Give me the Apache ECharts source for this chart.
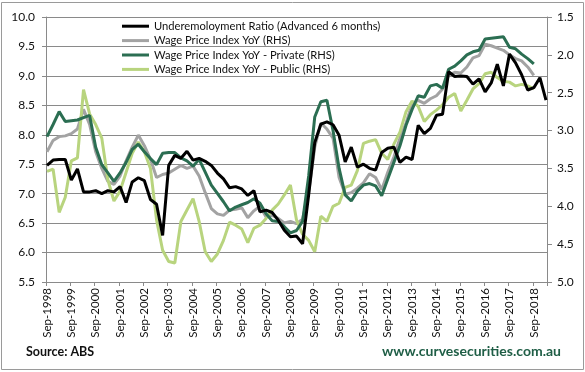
<!DOCTYPE html>
<html>
<head>
<meta charset="utf-8">
<script src="https://cdn.jsdelivr.net/npm/echarts@6/dist/echarts.min.js"></script>
<style>
  html, body { margin: 0; padding: 0; background: #ffffff; }
  #chart { width: 585px; height: 372px; }
</style>
</head>
<body>
<div id="chart"></div>
<script>
// ---- data (quarterly, Sep-1998 onwards) ----
var monthNames = ['Jan','Feb','Mar','Apr','May','Jun','Jul','Aug','Sep','Oct','Nov','Dec'];
var startYear = 1998, startMonth = 8;   // Sep-1998
var monthCount = 247;                  // Sep-1998 .. Mar-2019

var seriesNames = [
  'Underemoloyment Ratio (Advanced 6 months)',
  'Wage Price Index YoY (RHS)',
  'Wage Price Index YoY - Private (RHS)',
  'Wage Price Index YoY - Public (RHS)'
];

// Underemployment ratio, advanced 6 months (left axis), Sep-1998 .. Mar-2019
var underemployment = [
  7.48, 7.57, 7.58, 7.58, 7.23, 7.42, 7.03, 7.03, 7.05, 7.00,
  7.05, 7.03, 7.12, 6.85, 7.20, 7.27, 7.22, 6.90, 6.82, 6.29,
  7.48, 7.65, 7.60, 7.72, 7.57, 7.60, 7.55, 7.48, 7.35, 7.25,
  7.10, 7.12, 7.08, 6.97, 7.05, 6.69, 6.72, 6.68, 6.55, 6.38,
  6.27, 6.28, 6.15, 6.98, 7.87, 8.18, 8.22, 8.17, 7.99, 7.54,
  7.79, 7.45, 7.50, 7.43, 7.40, 7.70, 7.77, 7.79, 7.53, 7.62,
  7.58, 8.16, 8.02, 8.11, 8.33, 8.35, 9.07, 8.99, 9.00, 8.99,
  8.86, 8.95, 8.73, 8.88, 9.20, 8.83, 9.37, 9.22, 9.02, 8.76,
  8.80, 8.97, 8.59
];

// Wage Price Index YoY (right axis, inverted), Sep-1998 .. Sep-2018
var wpiTotal = [
  3.28, 3.13, 3.08, 3.07, 3.04, 2.98, 2.72, 2.92, 3.28, 3.50,
  3.67, 3.71, 3.60, 3.40, 3.22, 3.06, 3.20, 3.38, 3.62, 3.58,
  3.56, 3.51, 3.46, 3.50, 3.47, 3.60, 3.82, 4.03, 4.10, 4.12,
  4.05, 4.04, 4.02, 4.15, 4.06, 4.00, 4.14, 4.12, 4.16, 4.22,
  4.20, 4.23, 4.17, 3.82, 3.22, 2.90, 2.98, 3.10, 3.62, 3.84,
  3.82, 3.76, 3.69, 3.57, 3.62, 3.78, 3.55, 3.35, 3.10, 2.90,
  2.65, 2.60, 2.64, 2.58, 2.54, 2.45, 2.27, 2.23, 2.24, 2.16,
  2.04, 2.01, 1.86, 1.88, 1.91, 1.94, 2.00, 2.05, 2.08, 2.16,
  2.27
];

var wpiPrivate = [
  3.08, 2.92, 2.75, 2.88, 2.87, 2.86, 2.83, 2.80, 3.22, 3.45,
  3.56, 3.67, 3.56, 3.42, 3.25, 3.18, 3.28, 3.37, 3.45, 3.30,
  3.29, 3.29, 3.36, 3.40, 3.47, 3.38, 3.55, 3.72, 3.83, 3.94,
  4.06, 4.01, 3.98, 3.95, 3.90, 3.96, 4.10, 4.19, 4.20, 4.27,
  4.35, 4.32, 4.20, 3.60, 2.82, 2.62, 2.60, 3.00, 3.50, 3.85,
  3.93, 3.80, 3.72, 3.70, 3.73, 3.86, 3.64, 3.42, 3.20, 2.93,
  2.72, 2.54, 2.56, 2.41, 2.39, 2.44, 2.19, 2.15, 2.08, 2.00,
  1.96, 1.94, 1.79, 1.78, 1.77, 1.76, 1.90, 1.92, 1.99, 2.05,
  2.12
];

var wpiPublic = [
  3.54, 3.51, 4.08, 3.88, 3.40, 3.36, 2.46, 2.78, 2.92, 3.10,
  3.65, 3.93, 3.80, 3.55, 3.30, 3.15, 3.28, 3.50, 4.18, 4.58,
  4.73, 4.75, 4.20, 4.05, 3.90, 4.20, 4.60, 4.73, 4.63, 4.45,
  4.21, 4.25, 4.30, 4.48, 4.29, 4.25, 4.16, 4.05, 3.97, 3.85,
  3.72, 4.18, 4.37, 4.45, 4.60, 4.13, 4.20, 4.00, 3.96, 3.75,
  3.72, 3.53, 3.17, 3.14, 3.12, 3.30, 3.38, 3.18, 3.02, 2.75,
  2.61, 2.68, 2.88, 2.79, 2.73, 2.66, 2.56, 2.51, 2.74, 2.60,
  2.45, 2.38, 2.25, 2.23, 2.30, 2.35, 2.36, 2.41, 2.39, 2.41,
  2.45
];

var leftTicks = { min: 5.5, max: 10, interval: 0.5 };
var rightTicks = { min: 1.5, max: 5.0, interval: 0.5 };

// ---- build monthly category axis; quarterly values every 3rd month ----
var months = [];
for (var i = 0; i < monthCount; i++) {
  var mm = (startMonth + i) % 12;
  var yy = startYear + Math.floor((startMonth + i) / 12);
  months.push(monthNames[mm] + '-' + yy);
}
function toMonthly(q) {
  var out = [];
  for (var i = 0; i < monthCount; i++) {
    if (i % 3 === 0 && (i / 3) < q.length) out.push(q[i / 3]);
    else out.push(null);
  }
  return out;
}

var FONT = 'Lato, "Open Sans", sans-serif';
var GRID = '#8a8a8a';
var colors = ['#000000', '#a3a3a3', '#2b6e52', '#b8d47e'];

var chart = echarts.init(document.getElementById('chart'), null, { renderer: 'canvas' });
chart.setOption({
  animation: false,
  backgroundColor: '#ffffff',
  textStyle: { fontFamily: FONT },
  grid: { left: 46, right: 38, top: 17, bottom: 90, containLabel: false },
  legend: {
    orient: 'vertical',
    left: 122, top: 19,
    padding: 0,
    itemGap: 0,
    itemWidth: 27, itemHeight: 3,
    icon: 'rect',
    data: seriesNames,
    textStyle: { fontFamily: FONT, fontSize: 11.2, color: '#111', lineHeight: 14.4 }
  },
  xAxis: {
    type: 'category',
    data: months,
    boundaryGap: true,
    axisLine: { show: true, lineStyle: { color: GRID, width: 1 } },
    axisTick: { show: true, interval: 11, length: 4, lineStyle: { color: GRID } },
    axisLabel: { interval: 11, rotate: 90, margin: 6, fontSize: 11.5, color: '#111', fontFamily: FONT },
    splitLine: { show: false }
  },
  yAxis: [
    {
      type: 'value', position: 'left',
      min: leftTicks.min, max: leftTicks.max, interval: leftTicks.interval,
      axisLine: { show: true, lineStyle: { color: GRID, width: 1 } },
      axisTick: { show: true, length: 4, lineStyle: { color: GRID } },
      axisLabel: { margin: 11, fontSize: 12, color: '#111', fontFamily: FONT,
        formatter: function (v) { return v.toFixed(1); } },
      splitLine: { show: true, lineStyle: { color: GRID, width: 1 } }
    },
    {
      type: 'value', position: 'right', inverse: true,
      min: rightTicks.min, max: rightTicks.max, interval: rightTicks.interval,
      axisLine: { show: true, lineStyle: { color: GRID, width: 1 } },
      axisTick: { show: true, length: 5, lineStyle: { color: GRID } },
      axisLabel: { margin: 10, fontSize: 12, color: '#111', fontFamily: FONT,
        formatter: function (v) { return v.toFixed(1); } },
      splitLine: { show: false }
    }
  ],
  series: [
    { name: seriesNames[1], type: 'line', yAxisIndex: 1, data: toMonthly(wpiTotal),
      connectNulls: true, showSymbol: false, symbol: 'none', color: colors[1],
      lineStyle: { width: 3, color: colors[1] }, z: 2 },
    { name: seriesNames[3], type: 'line', yAxisIndex: 1, data: toMonthly(wpiPublic),
      connectNulls: true, showSymbol: false, symbol: 'none', color: colors[3],
      lineStyle: { width: 3, color: colors[3] }, z: 3 },
    { name: seriesNames[2], type: 'line', yAxisIndex: 1, data: toMonthly(wpiPrivate),
      connectNulls: true, showSymbol: false, symbol: 'none', color: colors[2],
      lineStyle: { width: 3, color: colors[2] }, z: 4 },
    { name: seriesNames[0], type: 'line', yAxisIndex: 0, data: toMonthly(underemployment),
      connectNulls: true, showSymbol: false, symbol: 'none', color: colors[0],
      lineStyle: { width: 3, color: colors[0] }, z: 5 }
  ],
  graphic: [
    { type: 'rect', shape: { x: 1.5, y: 2.5, width: 582, height: 367 },
      style: { fill: 'none', stroke: '#9a9a9a', lineWidth: 1 }, silent: true },
    { type: 'text', left: 26, top: 345,
      style: { text: 'Source: ABS', font: 'bold 12.5px ' + FONT, fill: '#111' } },
    { type: 'text', right: 24, top: 344,
      style: { text: 'www.curvesecurities.com.au', font: 'bold 14px ' + FONT, fill: '#1f5e46' } }
  ]
});
</script>
</body>
</html>
